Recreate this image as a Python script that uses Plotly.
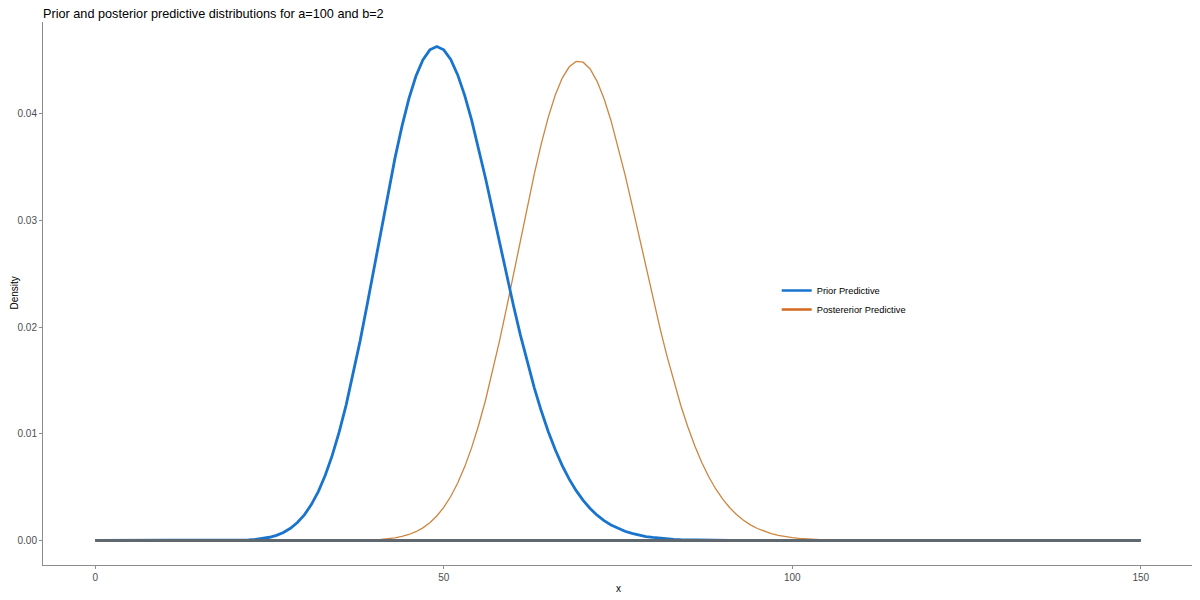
import plotly.graph_objects as go

# x positions (integer support of the predictive distributions)
x_values = list(range(0, 151))

# Prior predictive density (x = 0..150)
prior_density = [
    0, 0, 0, 0, 0, 0, 0, 0, 0, 0, 0, 0, 0, 0, 0, 0, 0, 0,                       # 0-17
    0.000004, 0.000009, 0.000017, 0.000033, 0.00006, 0.00011, 0.00018, 0.0003,   # 18-25
    0.00048, 0.00075, 0.00114, 0.00168, 0.0024, 0.00336, 0.00458, 0.00611,       # 26-33
    0.00797, 0.01017, 0.01271, 0.01557, 0.01871, 0.02207, 0.02556, 0.02909,      # 34-41
    0.03256, 0.03584, 0.03882, 0.04141, 0.04351, 0.04505, 0.04599, 0.0463,       # 42-49
    0.04599, 0.04509, 0.04364, 0.04172, 0.0394, 0.03678, 0.03393, 0.03095,       # 50-57
    0.02793, 0.02493, 0.02202, 0.01925, 0.01666, 0.01428, 0.01213, 0.0102,       # 58-65
    0.0085, 0.00702, 0.00575, 0.00467, 0.00376, 0.003, 0.00237, 0.00186,         # 66-73
    0.00145, 0.00112, 0.00086, 0.00066, 0.0005, 0.00037, 0.00028, 0.00021,       # 74-81
    0.00015, 0.00011, 0.00008, 0.00006, 0.00004, 0.00003, 0.00002, 0.000015,     # 82-89
    0.00001, 0.000007, 0.000005,                                                 # 90-92
    0, 0, 0, 0, 0, 0, 0, 0, 0, 0, 0, 0, 0, 0, 0, 0, 0, 0, 0, 0,                  # 93-112
    0, 0, 0, 0, 0, 0, 0, 0, 0, 0, 0, 0, 0, 0, 0, 0, 0, 0, 0, 0,                  # 113-132
    0, 0, 0, 0, 0, 0, 0, 0, 0, 0, 0, 0, 0, 0, 0, 0, 0, 0,                        # 133-150
]

# Posterior predictive density (x = 0..150)
posterior_density = [
    0, 0, 0, 0, 0, 0, 0, 0, 0, 0, 0, 0, 0, 0, 0, 0, 0, 0,                       # 0-17
    0, 0, 0, 0, 0, 0, 0, 0, 0, 0, 0, 0, 0, 0, 0, 0, 0, 0,                       # 18-35
    0.000007, 0.000012, 0.000022, 0.000037, 0.000062, 0.0001, 0.00016, 0.00025,  # 36-43
    0.00038, 0.00056, 0.00082, 0.00118, 0.00166, 0.00229, 0.0031, 0.00412,       # 44-51
    0.00538, 0.0069, 0.0087, 0.0108, 0.01317, 0.01582, 0.0187, 0.02176,          # 52-59
    0.02494, 0.02817, 0.03135, 0.03439, 0.0372, 0.03968, 0.04175, 0.04334,       # 60-67
    0.0444, 0.0449, 0.04483, 0.0442, 0.04304, 0.0414, 0.03935, 0.03696,          # 68-75
    0.03431, 0.03149, 0.02857, 0.02564, 0.02276, 0.01998, 0.01735, 0.01491,      # 76-83
    0.01268, 0.01068, 0.0089, 0.00734, 0.006, 0.00485, 0.00389, 0.00309,         # 84-91
    0.00243, 0.00189, 0.00146, 0.00112, 0.00085, 0.00064, 0.00047, 0.00035,      # 92-99
    0.00026, 0.00019, 0.00013, 0.000096, 0.000068, 0.000048, 0.000033, 0.000023, # 100-107
    0.000016, 0.000011, 0.000007,                                                # 108-110
    0, 0, 0, 0, 0, 0, 0, 0, 0, 0, 0, 0, 0, 0, 0, 0, 0, 0, 0, 0,                  # 111-130
    0, 0, 0, 0, 0, 0, 0, 0, 0, 0, 0, 0, 0, 0, 0, 0, 0, 0, 0, 0,                  # 131-150
]

baseline_x = [0, 150]
baseline_y = [0, 0]

series_names = ["Prior Predictive", "Postererior Predictive"]
x_ticks = [0, 50, 100, 150]
y_ticks = [0.00, 0.01, 0.02, 0.03, 0.04]

BLUE = "#1874CD"
CURVE_ORANGE = "#CD853F"
LEGEND_ORANGE = "#D2691E"
GRAY = "#5f686e"
FONT = "Liberation Sans, Arial, Helvetica, sans-serif"

# the page body adds an 8px offset; the figure is sized to fit the 1200x600 window
W, H = 1192, 592
ML, MR, MT, MB = 35, 7, 14, 35
PW, PH = W - ML - MR, H - MT - MB

fig = go.Figure()

fig.add_trace(go.Scatter(x=x_values, y=posterior_density, mode="lines",
                         line=dict(color=CURVE_ORANGE, width=1.3), showlegend=False,
                         hoverinfo="skip"))
fig.add_trace(go.Scatter(x=x_values, y=prior_density, mode="lines",
                         line=dict(color=BLUE, width=2.8), showlegend=False,
                         hoverinfo="skip"))
fig.add_trace(go.Scatter(x=baseline_x, y=baseline_y, mode="lines",
                         line=dict(color=GRAY, width=3), showlegend=False,
                         hoverinfo="skip"))

# legend entries
fig.add_trace(go.Scatter(x=[None], y=[None], mode="lines", name=series_names[0],
                         line=dict(color=BLUE, width=2.5)))
fig.add_trace(go.Scatter(x=[None], y=[None], mode="lines", name=series_names[1],
                         line=dict(color=LEGEND_ORANGE, width=2.5)))

axis_common = dict(
    showgrid=False, zeroline=False, showline=True, linecolor="#8c8c8c", linewidth=1,
    ticks="outside", ticklen=3, tickcolor="#8c8c8c", tickwidth=1, automargin=False,
    tickfont=dict(family=FONT, size=10, color="#4d4d4d"),
)

fig.update_layout(
    width=W, height=H,
    paper_bgcolor="white", plot_bgcolor="white",
    margin=dict(l=ML, r=MR, t=MT, b=MB),
    font=dict(family=FONT),
    title=dict(text="Prior and posterior predictive distributions for a=100 and b=2",
               x=35 / W, xanchor="left", y=1 - 6 / H, yanchor="middle",
               font=dict(family=FONT, size=12.7, color="black")),
    xaxis=dict(range=[-7.5, 157.5], tickvals=x_ticks, ticktext=[str(v) for v in x_ticks],
               **axis_common),
    yaxis=dict(range=[-0.0023, 0.0486], tickvals=y_ticks, tickformat=".2f",
               **axis_common),
    legend=dict(x=0.638, y=0.532, xanchor="left", yanchor="top",
                bgcolor="rgba(0,0,0,0)", itemwidth=30, tracegroupgap=0,
                font=dict(family=FONT, size=9.3, color="black")),
    annotations=[
        dict(text="x", xref="paper", yref="paper", x=0.5, y=-23 / PH,
             xanchor="center", yanchor="middle", showarrow=False,
             font=dict(family=FONT, size=10, color="black")),
        dict(text="Density", xref="paper", yref="paper", x=-29 / PW, y=0.5,
             xanchor="center", yanchor="middle", showarrow=False, textangle=-90,
             font=dict(family=FONT, size=10, color="black")),
    ],
)

fig.write_html("out.html")
